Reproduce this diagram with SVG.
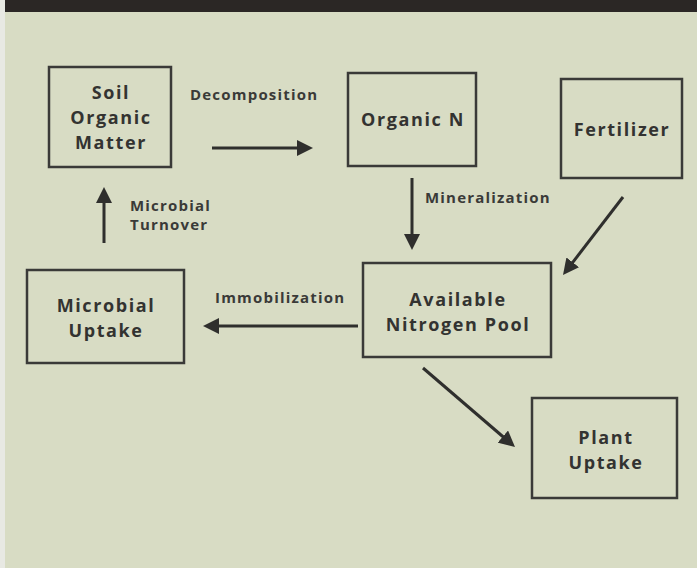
<svg xmlns="http://www.w3.org/2000/svg" width="697" height="568" viewBox="0 0 697 568">
<style>
.box{fill:none;stroke:#3a3a38;stroke-width:2.5}
.nt{font-family:"Open Sans","Noto Sans","Liberation Sans",sans-serif;font-weight:700;font-size:18px;letter-spacing:1.6px;fill:#333331;text-anchor:middle}
.lb{font-family:"Open Sans","Noto Sans","Liberation Sans",sans-serif;font-weight:700;font-size:15px;letter-spacing:1.2px;fill:#3a3a38}
.ar{stroke:#2f2f2d;stroke-width:3;fill:none;marker-end:url(#ah)}
</style>
<defs>
<marker id="ah" markerUnits="userSpaceOnUse" markerWidth="16" markerHeight="16" refX="6" refY="8" orient="auto">
<path d="M0,0 L16,8 L0,16 z" fill="#2f2f2d"/>
</marker>
</defs>
<rect x="0" y="0" width="697" height="568" fill="#e8e9e3"/>
<rect x="5" y="12" width="692" height="556" fill="#d8dcc4"/>
<rect x="5" y="0" width="692" height="12" fill="#2b2725"/>

<g id="soil-organic-matter">
<rect class="box" x="49" y="67" width="122" height="100"/>
<text class="nt" x="111" y="99">Soil</text>
<text class="nt" x="111" y="124">Organic</text>
<text class="nt" x="111" y="149">Matter</text>
</g>
<g id="organic-n">
<rect class="box" x="348" y="73" width="128" height="93"/>
<text class="nt" x="413" y="126">Organic N</text>
</g>
<g id="fertilizer">
<rect class="box" x="561" y="79" width="121" height="99"/>
<text class="nt" x="622" y="136">Fertilizer</text>
</g>
<g id="available-nitrogen-pool">
<rect class="box" x="363" y="263" width="188" height="94"/>
<text class="nt" x="458" y="305.5">Available</text>
<text class="nt" x="458" y="330.5">Nitrogen Pool</text>
</g>
<g id="microbial-uptake">
<rect class="box" x="27" y="270" width="157" height="93"/>
<text class="nt" x="106" y="312">Microbial</text>
<text class="nt" x="106" y="337">Uptake</text>
</g>
<g id="plant-uptake">
<rect class="box" x="532" y="398" width="145" height="100"/>
<text class="nt" x="606" y="443.5">Plant</text>
<text class="nt" x="606" y="468.5">Uptake</text>
</g>

<g id="connectors">
<line class="ar" x1="212" y1="148" x2="303" y2="148"/>
<line class="ar" x1="412" y1="178" x2="412" y2="240"/>
<line class="ar" x1="623" y1="197" x2="569.1" y2="267.1"/>
<line class="ar" x1="358" y1="326" x2="213" y2="326"/>
<line class="ar" x1="104" y1="243" x2="104" y2="197"/>
<line class="ar" x1="423" y1="368" x2="507.4" y2="440.5"/>
<text class="lb" x="190" y="100">Decomposition</text>
<text class="lb" x="425" y="203">Mineralization</text>
<text class="lb" x="215" y="303">Immobilization</text>
<text class="lb" x="130" y="211">Microbial</text>
<text class="lb" x="130" y="230">Turnover</text>
</g>
</svg>
